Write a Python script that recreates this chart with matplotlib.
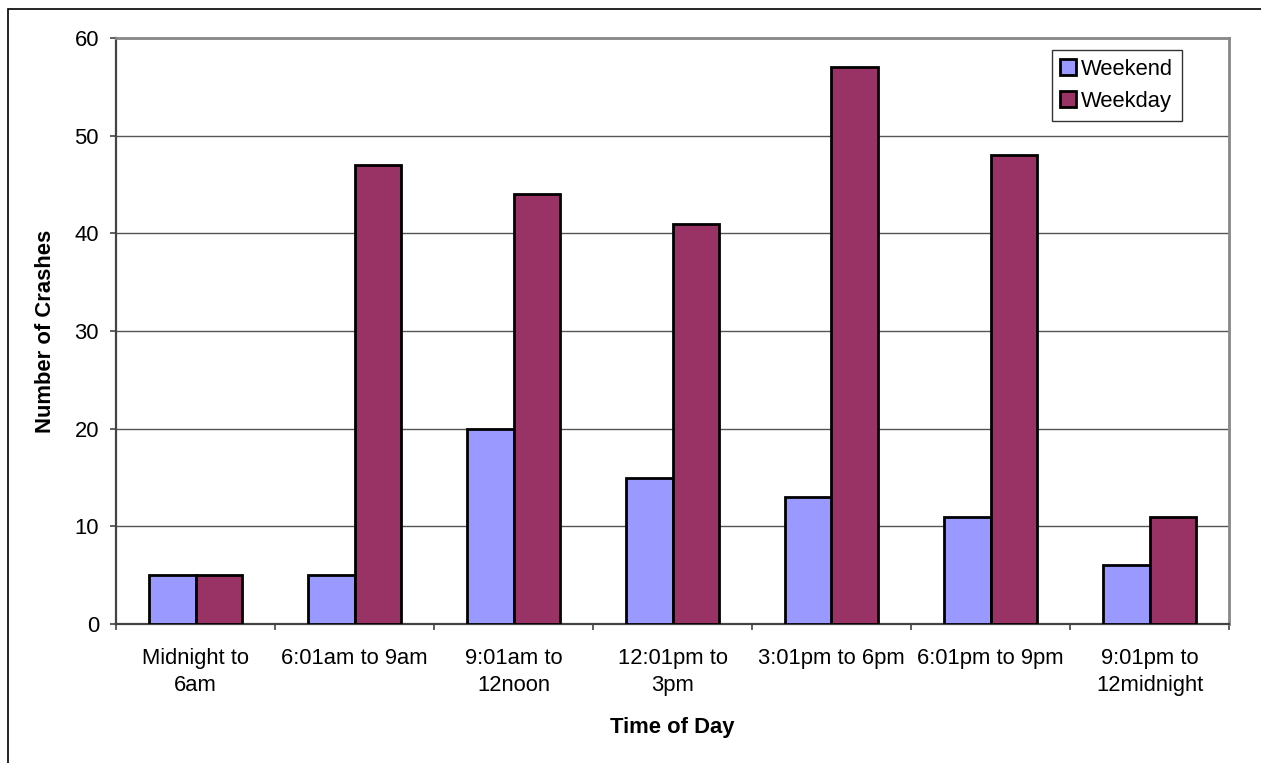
import numpy as np
import matplotlib.pyplot as plt
from matplotlib.patches import Rectangle

# data
categories = ['Midnight to\n6am', '6:01am to 9am', '9:01am to\n12noon', '12:01pm to\n3pm',
              '3:01pm to 6pm', '6:01pm to 9pm', '9:01pm to\n12midnight']
weekend = [5, 5, 20, 15, 13, 11, 6]
weekday = [5, 47, 44, 41, 57, 48, 11]
yticks = [0, 10, 20, 30, 40, 50, 60]

plt.rcParams['font.family'] = ['Liberation Sans', 'DejaVu Sans']
fs = 15.8

fig = plt.figure(figsize=(12.61, 7.63), dpi=100)
ax = fig.add_axes([116 / 1261, 1 - 624 / 763, (1229 - 116) / 1261, (624 - 38) / 763])

# outer chart frame (clipped on right/bottom as in reference)
fig.patches.append(Rectangle((8 / 1261, -0.1), 1.2, 1 - 9 / 763 + 0.1, transform=fig.transFigure,
                             fill=False, edgecolor='black', linewidth=1.2))

x = np.arange(len(categories))
w = 0.29
ax.bar(x - w / 2, weekend, w, color='#9999FF', edgecolor='black', linewidth=2, label='Weekend', zorder=3)
ax.bar(x + w / 2, weekday, w, color='#993366', edgecolor='black', linewidth=2, label='Weekday', zorder=3)

ax.set_xlim(-0.5, len(categories) - 0.5)
ax.set_ylim(0, 60)
ax.set_yticks(yticks)
ax.yaxis.grid(True, color='#555555', linewidth=1)
ax.set_axisbelow(True)

ax.set_xticks(x)
ax.set_xticklabels(categories, fontsize=fs, linespacing=1.4)
ax.set_xticks(np.arange(-0.5, len(categories)), minor=True)
ax.tick_params(axis='x', which='major', length=0, pad=17)
ax.tick_params(axis='x', which='minor', length=4.3, width=1.2, color='#444444')
ax.tick_params(axis='y', length=4.3, width=1.2, color='#444444', labelsize=fs, pad=8)

for s in ['top', 'right']:
    ax.spines[s].set_color('#888888')
    ax.spines[s].set_linewidth(2)
ax.spines['left'].set_color('#444444')
ax.spines['left'].set_linewidth(1.6)
ax.spines['bottom'].set_color('#444444')
ax.spines['bottom'].set_linewidth(1.6)

ax.set_ylabel('Number of Crashes', fontsize=fs, fontweight='bold', labelpad=13)
ax.set_xlabel('Time of Day', fontsize=fs, fontweight='bold', labelpad=15)

leg = ax.legend(loc='upper right', bbox_to_anchor=((1182 - 116) / 1113, (624 - 50) / 586),
                borderaxespad=0, fontsize=fs, fancybox=False, framealpha=1, edgecolor='#333333',
                handlelength=0.7, handleheight=0.7, handletextpad=0.25, labelspacing=0.5,
                borderpad=0.4)
leg.get_frame().set_linewidth(1)
for h in leg.legend_handles:
    h.set_linewidth(2)

fig.savefig('out.png', dpi=100)
